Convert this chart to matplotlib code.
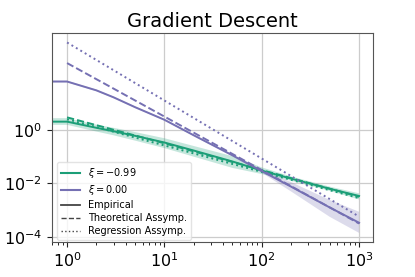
import numpy as np
import matplotlib
matplotlib.use('Agg')
import matplotlib.pyplot as plt
from matplotlib.lines import Line2D

# iterations (0 gets clipped on the log axis -> flat start)
steps = [0, 1, 2, 3, 5, 10, 20, 50, 100, 200, 500, 1000]
steps_asymp = [1, 10, 100, 1000]

# log10 of the risk
green_emp = [0.31, 0.31, 0.08, -0.05, -0.22, -0.47, -0.77, -1.18, -1.52, -1.82, -2.20, -2.47]
green_lo = [0.19, 0.19, -0.06, -0.20, -0.40, -0.68, -1.00, -1.42, -1.65, -1.90, -2.28, -2.60]
green_hi = [0.44, 0.44, 0.20, 0.08, -0.08, -0.31, -0.60, -0.98, -1.40, -1.74, -2.12, -2.37]
green_theo = [0.47, -0.50, -1.50, -2.50]
green_reg = [0.40, -0.58, -1.57, -2.55]

purple_emp = [1.81, 1.81, 1.48, 1.22, 0.85, 0.38, -0.20, -0.95, -1.54, -2.12, -2.90, -3.47]
purple_lo = [1.78, 1.78, 1.45, 1.19, 0.82, 0.35, -0.23, -0.99, -1.60, -2.30, -3.25, -3.85]
purple_hi = [1.84, 1.84, 1.51, 1.25, 0.88, 0.41, -0.17, -0.91, -1.48, -1.95, -2.62, -3.06]
purple_theo = [2.50, 0.50, -1.50, -3.50]
purple_reg = [3.27, 1.10, -1.07, -3.24]

labels = [r'$\xi = -0.99$', r'$\xi = 0.00$']
colors = ['#1b9e77', '#7570b3']

fig = plt.figure(figsize=(4.15, 2.77), dpi=100)
ax = fig.add_axes([0.1253, 0.1264, 0.7737, 0.7546])

series = [
    (green_emp, green_lo, green_hi, green_theo, green_reg),
    (purple_emp, purple_lo, purple_hi, purple_theo, purple_reg),
]
for (emp, lo, hi, theo, reg), c in zip(series, colors):
    ax.fill_between(steps, 10 ** np.array(lo), 10 ** np.array(hi), color=c, alpha=0.25, lw=0)
    ax.plot(steps, 10 ** np.array(emp), color=c, lw=1.4)
    ax.plot(steps_asymp, 10 ** np.array(theo), color=c, lw=1.4, ls='--')
    ax.plot(steps_asymp, 10 ** np.array(reg), color=c, lw=1.4, ls=':')

ax.set_xscale('log')
ax.set_yscale('log')
ax.set_xlim(0.70, 1393)
ax.set_ylim(10 ** -4.19, 10 ** 3.626)
ax.set_yticks([1e-4, 1e-2, 1e0])
ax.yaxis.set_minor_locator(matplotlib.ticker.NullLocator())
ax.tick_params(labelsize=11.5, colors='#222222', labelcolor='black')
ax.tick_params(which='minor', length=2)
ax.grid(True, which='major', color='#cccccc', lw=0.9)
ax.set_axisbelow(True)
for s in ax.spines.values():
    s.set_color('#555555')
ax.set_title('Gradient Descent', fontsize=14, pad=4)

handles = [
    Line2D([], [], color=colors[0], lw=1.5),
    Line2D([], [], color=colors[1], lw=1.5),
    Line2D([], [], color='#444444', lw=1.3),
    Line2D([], [], color='#444444', lw=1.0, ls='--'),
    Line2D([], [], color='#444444', lw=1.0, ls=':'),
]
names = labels + ['Empirical', 'Theoretical Assymp.', 'Regression Assymp.']
ax.legend(handles, names, loc='lower left', bbox_to_anchor=(0.015, 0.01),
          borderaxespad=0, fontsize=7, framealpha=0.8, edgecolor='#dddddd',
          labelspacing=0.3, borderpad=0.4)

fig.savefig('out.png', dpi=100)
